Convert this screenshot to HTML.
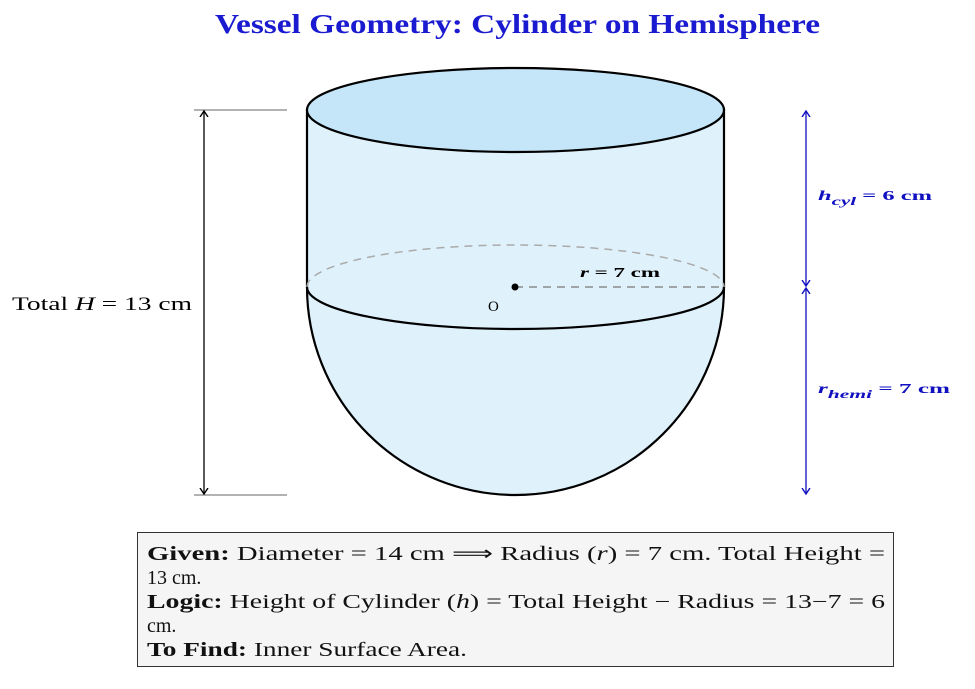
<!DOCTYPE html>
<html><head><style>
body{margin:0;background:#fff;width:975px;height:689px;overflow:hidden;position:relative;font-family:"Liberation Serif",serif}
.box{position:absolute;left:137px;top:532px;width:755px;height:133px;border:1.5px solid #333;background:#f5f5f5}
svg{position:absolute;left:0;top:0}
</style></head><body>
<div class="box"></div>
<svg width="975" height="689">
<defs>
<marker id="ak" markerWidth="10" markerHeight="10" refX="6" refY="5" orient="auto-start-reverse" markerUnits="userSpaceOnUse"><path d="M0,1 L6,5 L0,9" fill="none" stroke="#000" stroke-width="1.4"/></marker>
<marker id="ab" markerWidth="10" markerHeight="10" refX="6" refY="5" orient="auto-start-reverse" markerUnits="userSpaceOnUse"><path d="M0,1 L6,5 L0,9" fill="none" stroke="#1010c0" stroke-width="1.4"/></marker>
</defs>
<text x="215" y="33" textLength="605" lengthAdjust="spacingAndGlyphs" font-family="Liberation Serif" font-weight="bold" font-size="27" fill="#1a1ad0">Vessel Geometry: Cylinder on Hemisphere</text>
<path d="M307,110 L307,287 A208.5,208 0 0 0 724,287 L724,110 Z" fill="#dff1fb" stroke="#000" stroke-width="2.2"/>
<path d="M307,287 A208.5,42 0 0 1 724,287" fill="none" stroke="#aaa" stroke-width="1.5" stroke-dasharray="8,6"/>
<path d="M307,287 A208.5,42 0 0 0 724,287" fill="none" stroke="#000" stroke-width="2.2"/>
<ellipse cx="515.5" cy="110" rx="208.5" ry="42" fill="#c4e6f8" stroke="#000" stroke-width="2.2"/>
<line x1="515" y1="287" x2="724" y2="287" stroke="#777" stroke-width="1.3" stroke-dasharray="8,6"/>
<circle cx="515" cy="287" r="3.5" fill="#000"/>
<text x="488" y="311" font-size="15" font-family="Liberation Serif">O</text>
<text x="580" y="277" textLength="80" lengthAdjust="spacingAndGlyphs" font-size="14" font-weight="bold" font-family="Liberation Serif"><tspan font-style="italic">r</tspan> = 7 cm</text>
<line x1="194" y1="110" x2="287" y2="110" stroke="#666" stroke-width="1"/>
<line x1="194" y1="495" x2="287" y2="495" stroke="#666" stroke-width="1"/>
<line x1="204" y1="111" x2="204" y2="494" stroke="#000" stroke-width="1.3" marker-start="url(#ak)" marker-end="url(#ak)"/>
<text x="12" y="310" textLength="180" lengthAdjust="spacingAndGlyphs" font-size="19" font-family="Liberation Serif">Total <tspan font-style="italic">H</tspan> = 13 cm</text>
<line x1="806" y1="111" x2="806" y2="286" stroke="#1010c0" stroke-width="1.3" marker-start="url(#ab)" marker-end="url(#ab)"/>
<line x1="806" y1="288" x2="806" y2="494" stroke="#1010c0" stroke-width="1.3" marker-start="url(#ab)" marker-end="url(#ab)"/>
<text x="818" y="200" textLength="114" lengthAdjust="spacingAndGlyphs" font-size="14" font-weight="bold" fill="#1010c0" font-family="Liberation Serif"><tspan font-style="italic">h<tspan font-size="12" dy="5">cyl</tspan></tspan><tspan dy="-5"> = 6 cm</tspan></text>
<text x="818" y="393" textLength="132" lengthAdjust="spacingAndGlyphs" font-size="14" font-weight="bold" fill="#1010c0" font-family="Liberation Serif"><tspan font-style="italic">r<tspan font-size="12" dy="5">hemi</tspan></tspan><tspan dy="-5"> = 7 cm</tspan></text>
<g font-family="Liberation Serif" font-size="20" fill="#111">
<text x="147" y="560" textLength="738" lengthAdjust="spacingAndGlyphs"><tspan font-weight="bold">Given:</tspan> Diameter = 14 cm  ⟹  Radius (<tspan font-style="italic">r</tspan>) = 7 cm. Total Height =</text>
<text x="147" y="584">13 cm.</text>
<text x="147" y="608" textLength="738" lengthAdjust="spacingAndGlyphs"><tspan font-weight="bold">Logic:</tspan> Height of Cylinder (<tspan font-style="italic">h</tspan>) = Total Height − Radius = 13−7 = 6</text>
<text x="147" y="632">cm.</text>
<text x="147" y="656" textLength="320" lengthAdjust="spacingAndGlyphs"><tspan font-weight="bold">To Find:</tspan> Inner Surface Area.</text>
</g>
</svg>
</body></html>
